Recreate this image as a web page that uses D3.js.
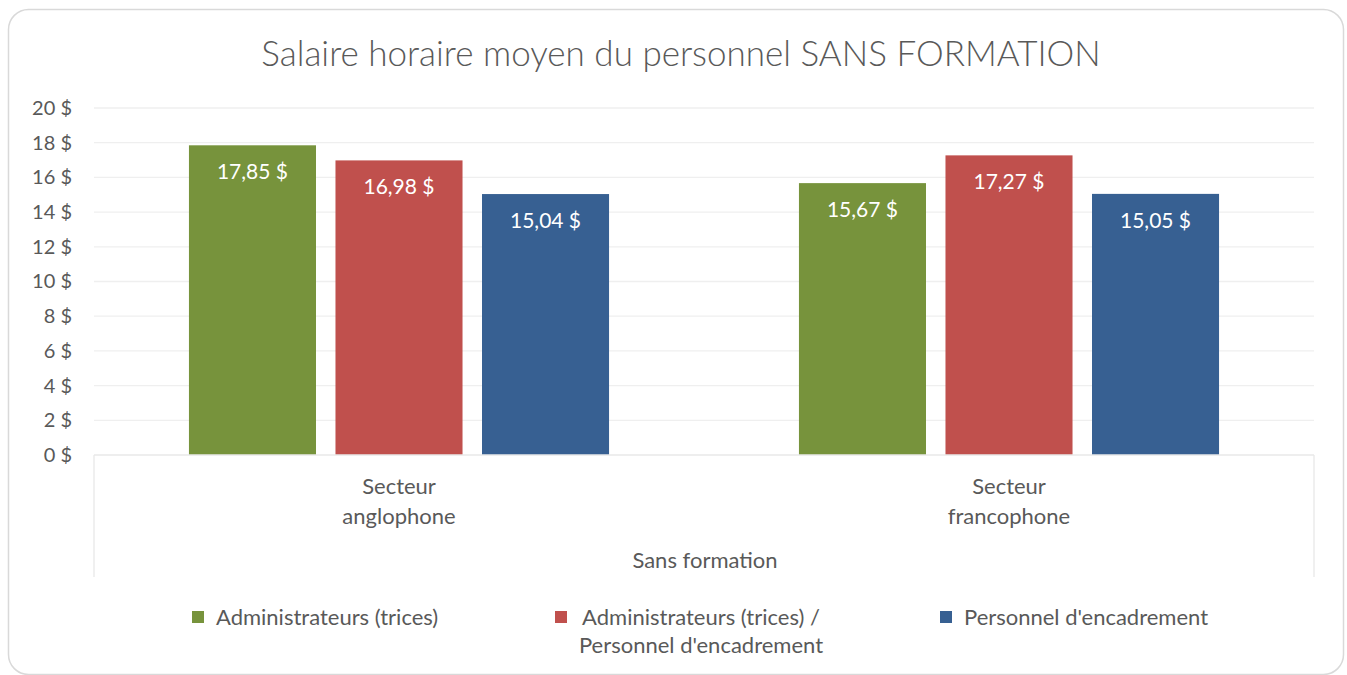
<!DOCTYPE html>
<html>
<head>
<meta charset="utf-8">
<script src="https://cdn.jsdelivr.net/npm/d3@7"></script>
<style>
  body { margin: 0; background: #fff; }
  svg text { font-family: Lato, "Open Sans", sans-serif; }
</style>
</head>
<body>
<script>
const categories = [['Secteur', 'anglophone'], ['Secteur', 'francophone']]
const seriesNames = ['Administrateurs (trices)', "Administrateurs (trices) / Personnel d'encadrement", "Personnel d'encadrement"]
const adminValues = [17.85, 15.67]
const mixedValues = [16.98, 17.27]
const encadrementValues = [15.04, 15.05]
const yTicks = [0, 2, 4, 6, 8, 10, 12, 14, 16, 18, 20]
const title = 'Salaire horaire moyen du personnel SANS FORMATION'
const groupLabel = 'Sans formation'

const colors = ['#77933C', '#C0504D', '#376092']
const series = [adminValues, mixedValues, encadrementValues]

const w = 1347
const h = 675
const textColor = '#595959'

const svg = d3.select('body')
  .append('svg')
  .attr('width', w)
  .attr('height', h)

// outer frame
svg.append('rect')
  .attr('x', 8.5).attr('y', 9.5)
  .attr('width', 1335).attr('height', 665)
  .attr('rx', 20)
  .attr('fill', '#fff')
  .attr('stroke', '#d9d9d9')
  .attr('stroke-width', 1.5)

svg.append('text')
  .attr('x', 681).attr('y', 66)
  .attr('text-anchor', 'middle')
  .attr('fill', textColor)
  .style('font-size', '35px')
  .style('font-weight', 300)
  .text(title)

const catIdx = categories.map((d, i) => i)

const x0 = d3.scaleBand()
  .domain(catIdx)
  .range([94, 1314])

const x1 = d3.scaleBand()
  .domain(d3.range(series.length))
  .range([0, x0.bandwidth()])
  .paddingInner(0.133)
  .paddingOuter(0.648)

const y = d3.scaleLinear()
  .domain([0, 20])
  .range([455, 108])

// gridlines
svg.append('g')
  .selectAll('line')
  .data(yTicks.filter(t => t > 0))
  .enter()
  .append('line')
  .attr('x1', 94).attr('x2', 1314)
  .attr('y1', d => y(d)).attr('y2', d => y(d))
  .attr('stroke', '#efefef')
  .attr('stroke-width', 1.3)

// y axis labels
const yAxis = d3.axisLeft(y)
  .tickValues(yTicks)
  .tickSize(0)
  .tickPadding(0)
  .tickFormat(d => d + ' $')

svg.append('g')
  .attr('transform', 'translate(72,0)')
  .call(yAxis)
  .call(g => g.select('.domain').remove())
  .call(g => g.selectAll('text')
    .attr('fill', textColor)
    .attr('font-family', null)
    .attr('font-size', null)
    .style('font-size', '20px'))

// bars
const groups = svg.append('g')
  .selectAll('g')
  .data(catIdx)
  .enter()
  .append('g')
  .attr('transform', d => 'translate(' + x0(d) + ',0)')

groups.selectAll('rect')
  .data(c => series.map((s, i) => ({ s: i, v: s[c] })))
  .enter()
  .append('rect')
  .attr('x', d => x1(d.s))
  .attr('y', d => y(d.v))
  .attr('width', x1.bandwidth())
  .attr('height', d => y(0) - y(d.v))
  .attr('fill', d => colors[d.s])

groups.selectAll('text.val')
  .data(c => series.map((s, i) => ({ s: i, v: s[c] })))
  .enter()
  .append('text')
  .attr('class', 'val')
  .attr('x', d => x1(d.s) + x1.bandwidth() / 2)
  .attr('y', d => y(d.v) + 34)
  .attr('text-anchor', 'middle')
  .attr('fill', '#fff')
  .style('font-size', '21px')
  .text(d => d3.format('.2f')(d.v).replace('.', ',') + ' $')

// category axis
svg.append('line')
  .attr('x1', 94).attr('x2', 1314)
  .attr('y1', y(0)).attr('y2', y(0))
  .attr('stroke', '#e8e8e8')
  .attr('stroke-width', 1.3)

svg.selectAll('line.vdiv')
  .data([94, 1314])
  .enter()
  .append('line')
  .attr('class', 'vdiv')
  .attr('x1', d => d).attr('x2', d => d)
  .attr('y1', y(0)).attr('y2', 577)
  .attr('stroke', '#e8e8e8')
  .attr('stroke-width', 1.3)

categories.forEach((lines, i) => {
  const t = svg.append('text')
    .attr('text-anchor', 'middle')
    .attr('fill', textColor)
    .style('font-size', '22px')
  lines.forEach((l, j) => {
    t.append('tspan')
      .attr('x', x0(i) + x0.bandwidth() / 2)
      .attr('y', 494 + j * 30)
      .text(l)
  })
})

svg.append('text')
  .attr('x', 705).attr('y', 568)
  .attr('text-anchor', 'middle')
  .attr('fill', textColor)
  .style('font-size', '22px')
  .text(groupLabel)

// legend
const legendX = [192, 555, 940]
const legendLines = [
  [seriesNames[0]],
  ['Administrateurs (trices) /', "Personnel d'encadrement"],
  [seriesNames[2]]
]

const legend = svg.append('g')
  .selectAll('g')
  .data(legendLines)
  .enter()
  .append('g')

legend.append('rect')
  .attr('x', (d, i) => legendX[i])
  .attr('y', 611)
  .attr('width', 12)
  .attr('height', 12)
  .attr('fill', (d, i) => colors[i])

legend.append('text')
  .attr('fill', textColor)
  .style('font-size', '22px')
  .attr('text-anchor', d => d.length > 1 ? 'middle' : 'start')
  .each(function (d, i) {
    const t = d3.select(this)
    d.forEach((l, j) => {
      t.append('tspan')
        .attr('x', d.length > 1 ? 701 : legendX[i] + 24)
        .attr('y', 625 + j * 28)
        .text(l)
    })
  })
</script>
</body>
</html>
